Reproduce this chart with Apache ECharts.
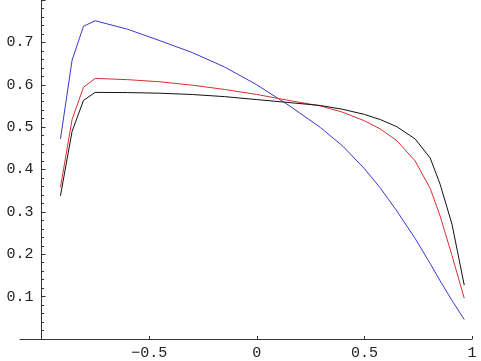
<!DOCTYPE html>
<html><head><meta charset="utf-8">
<script src="https://cdn.jsdelivr.net/npm/echarts@6/dist/echarts.min.js"></script>
<style>html,body{margin:0;padding:0;background:#fff}#c{width:481px;height:361px}</style>
</head><body><div id="c"></div>
<script>
const xs    = [-0.912, -0.858, -0.805, -0.751, -0.6, -0.45, -0.3, -0.15, 0, 0.15, 0.296, 0.40, 0.50, 0.573, 0.651, 0.736, 0.806, 0.852, 0.907, 0.964];
const blue  = [0.472, 0.658, 0.738, 0.751, 0.731, 0.704, 0.676, 0.642, 0.600, 0.551, 0.499, 0.455, 0.402, 0.357, 0.302, 0.237, 0.178, 0.137, 0.091, 0.046];
const black = [0.338, 0.490, 0.563, 0.582, 0.5815, 0.580, 0.577, 0.572, 0.565, 0.558, 0.551, 0.542, 0.530, 0.518, 0.501, 0.472, 0.427, 0.365, 0.271, 0.127];
const red   = [0.358, 0.518, 0.594, 0.615, 0.612, 0.607, 0.599, 0.589, 0.577, 0.563, 0.550, 0.535, 0.515, 0.496, 0.468, 0.420, 0.355, 0.290, 0.197, 0.096];
const xTicks = [-0.5, 0, 0.5, 1];

const chart = echarts.init(document.getElementById('c'), null, {renderer: 'canvas'});
const font = 'Liberation Mono';
const axisColor = '#333';
function pts(ys) { return xs.map((x, i) => [x, ys[i]]); }
function fmtX(v) { return v === 0 ? '0' : String(v).replace('-', '\u2212'); }
chart.setOption({
  animation: false,
  backgroundColor: '#fff',
  grid: {left: 20, right: 9, top: -12.2, bottom: 22, containLabel: false},
  xAxis: {
    type: 'value', min: -1.1, max: 1.0,
    splitLine: {show: false},
    axisLine: {show: true, onZero: false, lineStyle: {color: axisColor, width: 1}},
    axisTick: {show: true, inside: true, length: 3, customValues: xTicks, lineStyle: {color: axisColor}},
    axisLabel: {customValues: xTicks, formatter: fmtX, fontFamily: font, fontSize: 15, color: '#222', margin: 7}
  },
  yAxis: {
    type: 'value', min: 0, max: 0.8, interval: 0.1, offset: -21.5,
    splitLine: {show: false},
    axisLine: {show: true, onZero: false, lineStyle: {color: axisColor, width: 1}},
    axisTick: {show: true, inside: true, length: 4, lineStyle: {color: axisColor}},
    minorTick: {show: true, splitNumber: 5, length: 2.5, lineStyle: {color: axisColor}},
    axisLabel: {showMinLabel: false, showMaxLabel: false, formatter: v => v.toFixed(1), fontFamily: font, fontSize: 15, color: '#222', margin: 8}
  },
  series: [
    {type: 'line', data: pts(blue), showSymbol: false, lineStyle: {color: '#3838d0', width: 1}, itemStyle: {color: '#3838d0'}},
    {type: 'line', data: pts(red), showSymbol: false, lineStyle: {color: '#d83030', width: 1}, itemStyle: {color: '#d83030'}},
    {type: 'line', data: pts(black), showSymbol: false, lineStyle: {color: '#111', width: 1}, itemStyle: {color: '#111'}}
  ]
});
</script></body></html>
